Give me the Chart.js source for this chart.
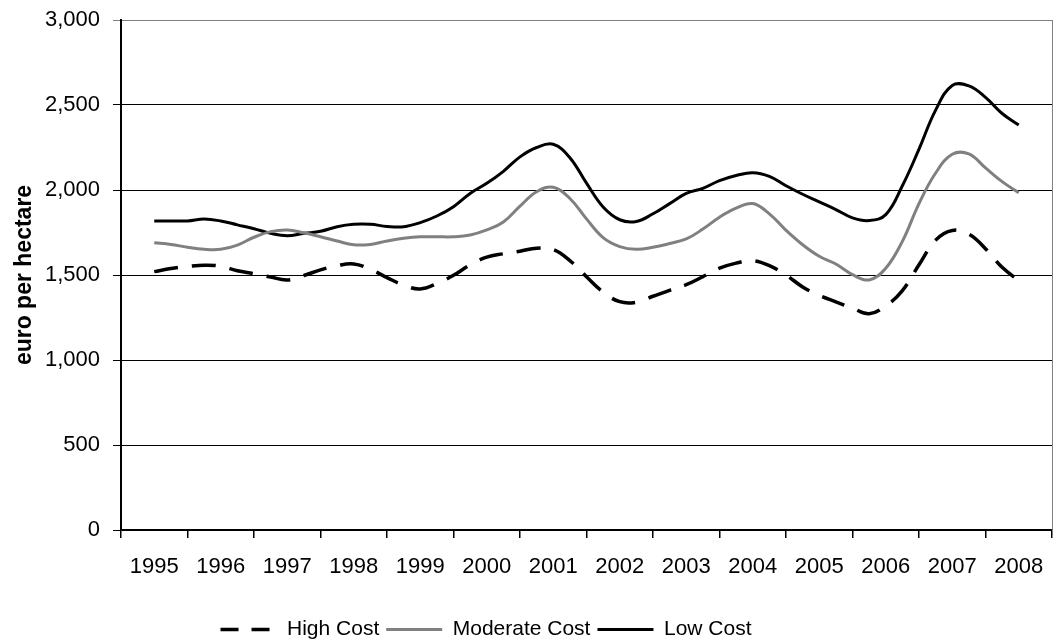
<!DOCTYPE html>
<html>
<head>
    <title>Land prices per hectare</title>
    <script src="https://cdn.jsdelivr.net/npm/chart.js"></script>
    <style>
        html, body { margin: 0; padding: 0; background: #fff; }
        #wrap { width: 1053px; height: 644px; }
    </style>
</head>
<body>
    <div id="wrap"><canvas id="price-chart"></canvas></div>

    <script>
        // Year labels on the category axis
        const years = ['1995', '1996', '1997', '1998', '1999', '2000', '2001',
                       '2002', '2003', '2004', '2005', '2006', '2007', '2008'];

        // Quarterly observation points
        const quarters = [
            1995, 1995.25, 1995.5, 1995.75, 1996, 1996.25, 1996.5, 1996.75,
            1997, 1997.25, 1997.5, 1997.75, 1998, 1998.25, 1998.5, 1998.75,
            1999, 1999.25, 1999.5, 1999.75, 2000, 2000.25, 2000.5, 2000.75,
            2001, 2001.25, 2001.5, 2001.75, 2002, 2002.25, 2002.5, 2002.75,
            2003, 2003.25, 2003.5, 2003.75, 2004, 2004.25, 2004.5, 2004.75,
            2005, 2005.25, 2005.5, 2005.75, 2006, 2006.25, 2006.5, 2006.75,
            2007, 2007.25, 2007.5, 2007.75, 2008
        ];

        // euro per hectare
        const highCost = [
            1520, 1538, 1550, 1558, 1552, 1525, 1508, 1488,
            1471, 1497, 1530, 1555, 1565, 1533, 1485, 1440,
            1418, 1450, 1498, 1560, 1605, 1625, 1640, 1658,
            1650, 1585, 1490, 1400, 1343, 1340, 1375, 1410,
            1443, 1490, 1540, 1570, 1584, 1555, 1500, 1430,
            1380, 1342, 1305, 1272, 1318, 1408, 1560, 1705,
            1762, 1740, 1655, 1545, 1467
        ];
        const moderateCost = [
            1690, 1680, 1663, 1651, 1651, 1676, 1722, 1755,
            1765, 1748, 1725, 1700, 1678, 1680, 1700, 1716,
            1725, 1725, 1725, 1735, 1765, 1812, 1905, 1990,
            2016, 1950, 1830, 1720, 1667, 1651, 1663, 1685,
            1712, 1770, 1840, 1893, 1920, 1860, 1763, 1678,
            1610, 1565, 1502, 1471, 1540, 1698, 1920, 2100,
            2210, 2212, 2130, 2049, 1984
        ];
        const lowCost = [
            1818, 1818, 1818, 1829, 1818, 1795, 1772, 1745,
            1731, 1745, 1757, 1784, 1798, 1798, 1786, 1784,
            1808, 1847, 1902, 1980, 2039, 2110, 2195, 2250,
            2269, 2190, 2040, 1900, 1825, 1815, 1860, 1920,
            1980, 2010, 2055, 2085, 2102, 2080, 2025, 1975,
            1930, 1885, 1836, 1820, 1855, 2025, 2240, 2470,
            2615, 2612, 2545, 2450, 2382
        ];

        const FONT = "'Liberation Sans', Arial, sans-serif";
        Chart.defaults.font.family = FONT;
        Chart.defaults.color = '#000';

        function toPoints(values) {
            return quarters.map((q, i) => ({ x: q, y: values[i] }));
        }

        // nudge the legend to where it sits in the original picture
        const legendNudge = {
            id: 'legendNudge',
            afterLayout(chart) {
                const l = chart.legend;
                l.left -= 40; l.right -= 40;
                l.top += 6; l.bottom += 6;
            }
        };

        const ctx = document.getElementById('price-chart').getContext('2d');

        new Chart(ctx, {
            type: 'line',
            data: {
                datasets: [{
                    label: 'High Cost',
                    data: toPoints(highCost),
                    borderColor: '#000',
                    borderWidth: 3.5,
                    borderDash: [24, 14],
                    pointRadius: 0,
                    tension: 0.4,
                    fill: false
                }, {
                    label: 'Moderate Cost',
                    data: toPoints(moderateCost),
                    borderColor: '#808080',
                    borderWidth: 3,
                    pointRadius: 0,
                    tension: 0.4,
                    fill: false
                }, {
                    label: 'Low Cost',
                    data: toPoints(lowCost),
                    borderColor: '#000',
                    borderWidth: 3,
                    pointRadius: 0,
                    tension: 0.4,
                    fill: false
                }]
            },
            options: {
                responsive: true,
                maintainAspectRatio: false,
                animation: false,
                layout: { padding: { top: 20, right: 1, left: 0, bottom: 0 } },
                plugins: {
                    tooltip: { enabled: false },
                    legend: {
                        position: 'bottom',
                        labels: {
                            usePointStyle: true,
                            pointStyle: 'line',
                            pointStyleWidth: 56,
                            padding: 7,
                            color: '#000',
                            font: { size: 21, family: FONT },
                            generateLabels(chart) {
                                const items = Chart.defaults.plugins.legend.labels.generateLabels(chart);
                                items[0].lineDash = [18, 13];
                                return items;
                            }
                        }
                    }
                },
                scales: {
                    x: {
                        type: 'linear',
                        min: 1994.5,
                        max: 2008.5,
                        display: false
                    },
                    years: {
                        type: 'category',
                        labels: years,
                        position: 'bottom',
                        offset: true,
                        grid: {
                            offset: true,
                            drawOnChartArea: false,
                            color: '#000',
                            lineWidth: 1.5,
                            tickLength: 8
                        },
                        border: { color: '#000', width: 2 },
                        ticks: {
                            color: '#000',
                            font: { size: 22, family: FONT },
                            padding: 16,
                            maxRotation: 0,
                            autoSkip: false
                        },
                        afterFit(scale) {
                            scale.height = 76;
                            scale.paddingLeft = 0;
                            scale.paddingRight = 0;
                        }
                    },
                    y: {
                        min: 0,
                        max: 3000,
                        ticks: {
                            stepSize: 500,
                            color: '#000',
                            padding: 13,
                            font: { size: 22, family: FONT },
                            callback: v => v.toLocaleString('en-US')
                        },
                        grid: {
                            color: c => (c.tick && c.tick.value === 3000) ? '#808080' : '#000',
                            lineWidth: 1,
                            tickLength: 8
                        },
                        border: { color: '#000', width: 2 },
                        title: {
                            display: true,
                            text: 'euro per hectare',
                            color: '#000',
                            padding: { top: 11, bottom: 0 },
                            font: { size: 23, weight: 'bold', family: FONT }
                        },
                        afterFit(scale) {
                            scale.width = 121;
                            scale.paddingTop = 0;
                            scale.paddingBottom = 0;
                        }
                    },
                    right: {
                        type: 'linear',
                        position: 'right',
                        grid: { display: false },
                        ticks: { display: false },
                        border: { color: '#808080', width: 1 },
                        afterFit(scale) { scale.width = 0; }
                    }
                }
            },
            plugins: [legendNudge]
        });
    </script>
</body>
</html>
